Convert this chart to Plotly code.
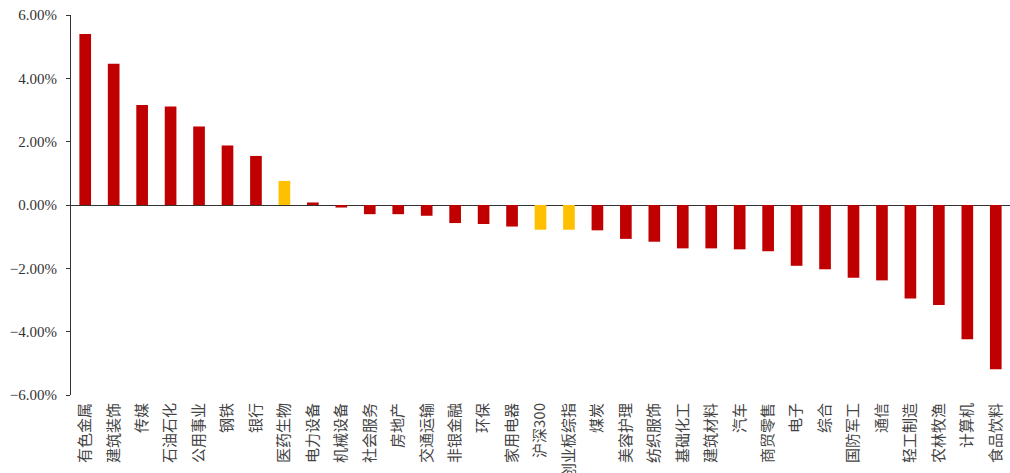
import plotly.graph_objects as go

# Sector weekly returns (%), sorted high to low
sectors = ["有色金属", "建筑装饰", "传媒", "石油石化", "公用事业", "钢铁", "银行", "医药生物",
           "电力设备", "机械设备", "社会服务", "房地产", "交通运输", "非银金融", "环保", "家用电器",
           "沪深300", "创业板综指", "煤炭", "美容护理", "纺织服饰", "基础化工", "建筑材料", "汽车",
           "商贸零售", "电子", "综合", "国防军工", "通信", "轻工制造", "农林牧渔", "计算机", "食品饮料"]
returns = [5.40, 4.46, 3.16, 3.11, 2.48, 1.88, 1.55, 0.76,
           0.08, -0.08, -0.29, -0.29, -0.34, -0.57, -0.60, -0.68,
           -0.78, -0.78, -0.80, -1.07, -1.16, -1.37, -1.37, -1.40,
           -1.46, -1.92, -2.03, -2.30, -2.38, -2.95, -3.16, -4.24, -5.19]
highlighted = ["医药生物", "沪深300", "创业板综指"]

RED = "#C00000"
YELLOW = "#FFC000"
colors = [YELLOW if s in highlighted else RED for s in sectors]

fig = go.Figure(go.Bar(
    x=sectors, y=returns,
    marker=dict(color=colors, line=dict(width=0)),
    width=0.41,
))

fig.update_layout(
    width=1010, height=473,
    margin=dict(l=71, r=0, t=15, b=78),
    paper_bgcolor="white", plot_bgcolor="white",
    showlegend=False,
    font=dict(family="Liberation Serif, Noto Sans CJK SC", color="#333333"),
)
fig.update_yaxes(
    range=[-6, 6], dtick=2, tickformat=".2f", ticksuffix="%",
    showgrid=False, showline=True, linecolor="#333333", linewidth=1,
    ticks="outside", ticklen=4, tickcolor="#333333",
    ticklabelstandoff=6,
    zeroline=True, zerolinecolor="#333333", zerolinewidth=1,
    tickfont=dict(family="Liberation Serif", size=15, color="#333333"),
    automargin=False,
)
fig.update_xaxes(
    range=[-0.5, len(sectors) - 0.5],
    showgrid=False, showline=False, ticks="",
    tickangle=-90,
    ticklabelstandoff=4,
    tickfont=dict(family="Noto Sans CJK SC", size=15, color="#444444"),
    automargin=False,
)

fig.write_html("out.html")
